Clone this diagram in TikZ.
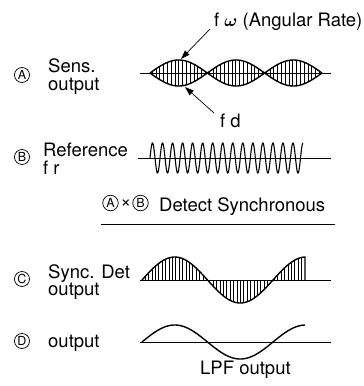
\documentclass[tikz,border=0pt]{standalone}
\usepackage{amsmath}
\usepackage{fontspec}
\setmainfont{TeX Gyre Heros}
\usetikzlibrary{arrows.meta}
\begin{document}
\begin{tikzpicture}[x=1pt,y=-1pt,
  lbl/.style={anchor=base west, inner sep=0pt, font=\fontsize{18.5}{18.5}\selectfont},
  circ/.style={circle, draw, line width=0.7pt, inner sep=0pt, minimum size=15pt, font=\fontsize{12.5}{12.5}\selectfont},
  axisline/.style={line width=1pt},
  curve/.style={line width=1.4pt},
  hatch/.style={line width=0.5pt},
  pointer/.style={line width=0.7pt, -{Triangle[length=9pt,width=6pt]}}]
\useasboundingbox (0,0) rectangle (364,386);

% ---------- Row A ----------
\node[circ] (cA) at (22,75) {A};
\node[lbl] (sens) at (48,72) {Sens.};
\node[lbl] (sensout) at (48,90) {output};
\coordinate (a0) at (140,73);
\coordinate (a1) at (331,73);
\draw[axisline] (a0) -- (a1);
\foreach \x in {152,155.8,...,321}
  \draw[hatch] (\x,{73-13*abs(sin(3.1395*(\x-150)))}) -- (\x,{73+13*abs(sin(3.1395*(\x-150)))});
\draw[curve] plot[domain=150:322, samples=241] (\x,{73-13*abs(sin(3.1395*(\x-150)))});
\draw[curve] plot[domain=150:322, samples=241] (\x,{73+13*abs(sin(3.1395*(\x-150)))});
\node[lbl] (fw) at (214,26) {f $\boldsymbol{\omega}$ (Angular Rate)};
\node[lbl] (fd) at (220,127) {f d};
\coordinate (fwtail) at (210,29);
\coordinate (fwtip) at (181,59);
\coordinate (fdtail) at (214,113);
\coordinate (fdtip) at (185,87);
\draw[pointer] (fwtail) -- (fwtip);
\draw[pointer] (fdtail) -- (fdtip);

% ---------- Row B ----------
\node[circ] (cB) at (22,157) {B};
\node[lbl] (ref) at (43,156) {Reference};
\node[lbl] (fr) at (43,174) {f r};
\coordinate (b0) at (138,158);
\coordinate (b1) at (331,158);
\draw[axisline] (b0) -- (b1);
\draw[line width=1.1pt] plot[domain=150:303, samples=700] (\x,{158-15*sin(35.881*(\x-150))});

% ---------- Detect line ----------
\node[circ, minimum size=15.5pt] (dA) at (110.5,203) {A};
\node[anchor=center, inner sep=0pt, font=\fontsize{18}{18}\selectfont] (times) at (126,203.5) {×};
\node[circ, minimum size=15.5pt] (dB) at (140.5,203) {B};
\node[lbl] (det) at (159,211) {Detect Synchronous};
\coordinate (u0) at (101,224);
\coordinate (u1) at (335,224);
\draw[line width=1pt] (u0) -- (u1);

% ---------- Row C ----------
\node[circ] (cC) at (22,279) {C};
\node[lbl] (sync) at (48,278) {Sync. Det};
\node[lbl] (syncout) at (48,295) {output};
\coordinate (c0) at (140,280);
\coordinate (c1) at (331,280);
\draw[axisline] (c0) -- (c1);
\foreach \x in {145,148.4,...,304}
  \draw[hatch] (\x,280) -- (\x,{280-23*sin(2.7481*(\x-142))});
\draw[curve] plot[domain=142:305, samples=200] (\x,{280-23*sin(2.7481*(\x-142))}) -- (305,280);

% ---------- Row D ----------
\node[circ] (cD) at (22,341) {D};
\node[lbl] (dout) at (48,347) {output};
\coordinate (d0) at (140,342);
\coordinate (d1) at (331,342);
\draw[axisline] (d0) -- (d1);
\draw[curve] plot[domain=142:305, samples=200] (\x,{342-17*sin(2.7481*(\x-142))});
\node[lbl] (lpf) at (200,374) {LPF output};
\end{tikzpicture}
\end{document}
